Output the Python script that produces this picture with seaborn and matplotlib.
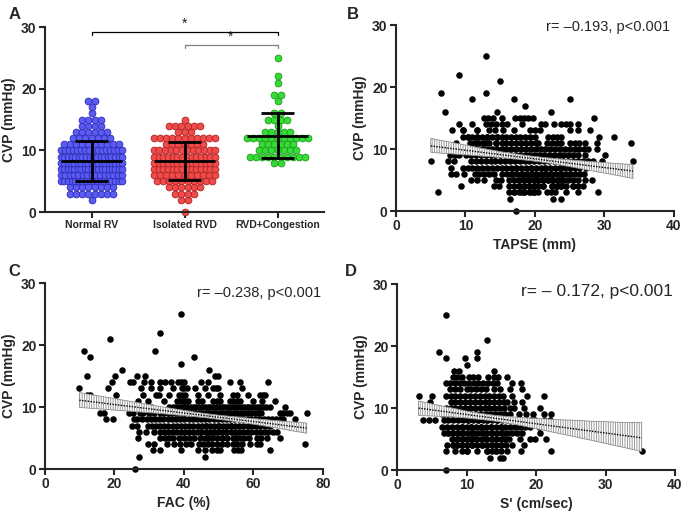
import numpy as np
import pandas as pd
import matplotlib
matplotlib.use("Agg")
import matplotlib.pyplot as plt
import seaborn as sns

sns.set_style("ticks")
plt.rcParams["font.family"] = ["Liberation Sans", "DejaVu Sans"]
plt.rcParams["hatch.linewidth"] = 0.6

# ---- Panel A : CVP par groupe (niveau -> nombre de patients) ----
GROUPS = ["Normal RV", "Isolated RVD", "RVD+Congestion"]
NORMAL_CVP = [2, 3, 4, 5, 6, 7, 8, 9, 10, 11, 12, 13, 14, 15, 16, 17, 18]
NORMAL_N = [1, 8, 8, 18, 15, 19, 19, 18, 16, 10, 7, 6, 4, 4, 1, 1, 2]
ISOLATED_CVP = [0, 2, 3, 4, 5, 6, 7, 8, 9, 10, 11, 12, 13, 14, 15]
ISOLATED_N = [1, 2, 4, 6, 10, 11, 14, 14, 14, 12, 7, 11, 3, 6, 1]
CONGEST_CVP = [8, 9, 10, 11, 12, 13, 14, 15, 16, 18, 19, 21, 22, 25]
CONGEST_N = [2, 10, 7, 6, 11, 5, 1, 4, 2, 1, 2, 1, 1, 1]
GROUP_FILL = ["#5B5BF2", "#F04B4B", "#35DC35"]
GROUP_EDGE = ["#2B2BB8", "#B02323", "#1E9A1E"]

# ---- Panel B : TAPSE (mm) par niveau de CVP ----
B_CVP = [25, 22, 21, 19, 18, 17, 16, 15, 14, 13, 12, 11, 10, 9, 8, 7, 6, 5, 4, 3, 2, 0]
B_TAPSE = [
    [13],
    [9],
    [15],
    [6.5, 13],
    [11, 17, 25],
    [18.5],
    [7, 14.5, 22.3],
    [12.7, 13.3, 14, 15.2, 17.1, 17.8, 18.4, 19, 19.7, 28.5],
    [9, 11, 13, 13.7, 14.4, 15.2, 16, 18.1, 20.8, 21.4, 22.7, 23.8, 24.5, 25, 26.2],
    [8, 9.7, 9.7, 11.7, 11.7, 13.4, 14.2, 15.4, 17, 19.3, 20, 20.7, 25, 26.2, 27.9],
    [9.6, 10.3, 10.3, 11, 11.7, 11.7, 12.4, 13.1, 13.1, 13.8, 14.5, 14.5, 15.2, 15.8,
     16.5, 17.2, 17.9, 18.6, 19.3, 20, 21.9, 22.6, 23.2, 23.8, 29.2, 31.3],
    [8.6, 10.6, 11.3, 11.3, 12, 12.7, 12.7, 13.4, 14.4, 14.4, 15.2, 15.9, 16.6, 17.3, 18,
     18.7, 19.4, 20.1, 20.5, 21.7, 22.4, 23.1, 23.8, 25, 25.7, 26.4, 27.2, 28.9, 33.8],
    [8.3, 9, 10.3, 11, 11.7, 12.4, 13.1, 13.8, 14.5, 15.2, 15.9, 16.6, 17.3, 18, 18.7,
     19.4, 20.1, 20.8, 21.5, 22.2, 22.9, 23.6, 24.3, 25, 25.7, 26.4, 27.1, 27.7, 28.9],
    [7.7, 8.5, 9.1, 10.1, 10.8, 11.5, 12.2, 12.9, 13.6, 14.3, 15, 15.7, 16.4, 17.1,
     17.8, 18.5, 19.2, 19.9, 20.6, 21.3, 22, 22.7, 23.4, 24.1, 24.8, 25.5, 26.2, 27.2, 30.1],
    [5, 7.5, 8.4, 10.8, 11.5, 12.2, 12.9, 13.6, 14.3, 15, 15.7, 16.4, 17.1, 17.8, 18.5,
     19.2, 19.9, 20.6, 21.3, 22, 22.7, 23.4, 24.1, 24.8, 25.5, 26.2, 26.9, 27.6, 28.4,
     29.6, 34.1],
    [7.9, 9.6, 10.3, 11, 11.7, 12.4, 13.1, 13.8, 14.5, 15.2, 15.9, 16.6, 17.3, 17.3, 18,
     18.7, 19.4, 19.4, 20.1, 20.8, 21.5, 21.5, 22.2, 22.9, 23.6, 23.6, 24.3, 25, 25.7,
     26.4, 27.4, 29.7],
    [7.9, 8.6, 9.8, 11.3, 12, 12.7, 13.4, 14.1, 15.3, 16, 16.7, 16.7, 17.4, 18.1, 18.1,
     18.8, 18.8, 19.5, 19.5, 20.2, 20.2, 20.9, 20.9, 21.6, 21.6, 22.3, 22.3, 23, 23.7,
     23.7, 24.4, 25.1, 25.1, 25.8, 26.5, 27],
    [10.8, 11.7, 12.7, 14.4, 15.1, 16.3, 17, 17.7, 17.7, 18.4, 18.4, 19.1, 19.1, 19.8,
     19.8, 20.5, 20.5, 21.2, 21.2, 21.9, 21.9, 22.6, 22.6, 23.3, 23.3, 24, 24, 24.7, 25.4,
     26.2, 27.2, 28.2],
    [9.3, 14.1, 14.8, 16.3, 17, 17.7, 17.7, 18.4, 18.4, 19.1, 19.1, 19.8, 19.8, 20.5,
     20.5, 21.2, 21.2, 22.4, 22.4, 23.1, 23.1, 23.8, 23.8, 24.5, 25.5, 25.5, 26.2, 26.9],
    [6.1, 16.3, 17, 17, 17.7, 18, 18.4, 18.4, 19.1, 19.4, 19.8, 19.8, 20.5, 21.7, 22.3,
     22.9, 24.5, 26.2, 29.1],
    [16.4, 22.6, 23.8],
    [17.2],
]

# ---- Panel C : FAC (%) par niveau de CVP ----
C_CVP = [25, 22, 21, 19, 18, 17, 16, 15, 14, 13, 12, 11, 10, 9, 8, 7, 6, 5, 4, 3, 2, 0]
C_FAC = [
    [39],
    [33],
    [18.7],
    [11.2, 31.8],
    [13, 43],
    [39],
    [22.3, 47.3],
    [12.2, 20.1, 26.4, 28.8, 48.9, 49.9],
    [19.2, 24.6, 25.3, 28.6, 30.5, 33.2, 34.5, 36.4, 38.4, 39.2, 40.1, 44.9, 47, 53.2,
     56.1, 64.3],
    [9.9, 18, 27.6, 30.5, 33.2, 36.7, 39.3, 40.1, 40.8, 43.2, 46, 48.4, 49.2, 49.9, 56.6],
    [12.2, 13, 20.4, 28.3, 32, 32.8, 35.7, 38.6, 39.4, 40.2, 44.1, 47, 50.4, 54.2, 55.2,
     58.5, 61.8, 62.6, 63.4],
    [26.7, 29.7, 34.2, 37.9, 38.8, 39.6, 40.4, 41.2, 44.1, 45.2, 48.4, 49.4, 50.5, 53.2,
     54.2, 55.2, 56.1, 60, 62.4, 66.2],
    [26, 28, 30.5, 35.8, 36.8, 37.8, 38.8, 39.6, 40.4, 41.2, 42, 42.8, 43.6, 44.4, 45.2,
     46, 46.8, 47.6, 48.4, 49.2, 50, 50.8, 51.6, 52.4, 53.2, 54, 54.8, 55.6, 56.4, 57.2,
     58, 58.8, 59.6, 60.4, 61.2, 62, 62.8, 63.6, 64.7, 69],
    [15.8, 17, 24.2, 25.3, 27.3, 28.3, 30, 31.5, 33, 34.2, 35.3, 36.3, 37.3, 38.3, 39.3,
     40.3, 41.3, 42.3, 43.3, 44.3, 45.3, 46.3, 47.3, 48.3, 49.3, 50.3, 51.3, 52.3, 53.3,
     54.3, 55.3, 56.3, 57.3, 58.3, 59.3, 60.3, 61.3, 62.3, 67.6, 68.6, 69.6, 70.5, 75.3],
    [17.5, 19.6, 25.5, 26.5, 28, 29.3, 30.5, 31.7, 32.9, 34.1, 35.3, 36.5, 37.7, 38.9,
     40.1, 41.3, 42.5, 43.7, 44.9, 46.1, 47.3, 48.5, 49.7, 50.9, 52.1, 53.3, 54.5, 55.7,
     56.9, 58.1, 59.3, 60.5, 61.7, 62.9, 64.1, 65.3, 66.5, 67.7, 68.6, 71.9],
    [25, 26.5, 29.5, 30.7, 31.9, 33.1, 34.3, 35.5, 36.7, 37.9, 39.1, 40.3, 41.5, 42.7,
     43.9, 45.1, 46.3, 46.3, 47.5, 48.7, 49.9, 50, 51.1, 52.3, 53.5, 53.5, 54.7, 55.9,
     57.1, 58.3, 59.5, 60.7, 62, 63.3, 64.7, 71.4],
    [27, 29, 31.5, 33, 34.2, 35.4, 36.6, 37.8, 39, 40.2, 41.4, 42.6, 43.8, 45, 45, 46.2,
     47.4, 48.6, 48.6, 49.8, 51, 52.2, 52.2, 53.4, 54.6, 55.8, 57, 58.2, 59.4, 60.6, 61.8,
     63, 64.3, 65.5, 66.7],
    [26.8, 33, 34.5, 35.7, 36.9, 38.5, 40, 41.5, 43, 44.5, 46, 47, 47, 48, 49.5, 51, 51,
     52.5, 54, 55, 55, 56.2, 57.4, 58.6, 60.9, 62.3, 63.8, 67.6],
    [29.5, 31.5, 35, 37, 38.9, 40.6, 42.1, 44.2, 45.5, 46.8, 48, 49.5, 51, 52.5, 54, 55.3,
     56.6, 59, 60.9, 62, 74.8],
    [31, 33, 39, 44, 46, 48, 49.5, 50.5, 54.5, 55.5, 56.5, 64.8],
    [27, 46],
    [26],
]

# ---- Panel D : S' (cm/sec) par niveau de CVP ----
D_CVP = [25, 21, 19, 18, 17, 16, 15, 14, 13, 12, 11, 10, 9, 8, 7, 6, 5, 4, 3, 2, 0]
D_SPRIME = [
    [7],
    [13],
    [6, 11.5],
    [7.1, 9.8, 11.5],
    [10.1],
    [8.2, 8.9, 14],
    [8, 8.7, 9.3, 10.4, 11, 11.6, 13.1, 13.9, 14.6, 15.8],
    [7, 7.6, 8.3, 9, 9.7, 10.4, 11.1, 11.7, 12.4, 13.1, 13.8, 14.4, 16.5, 17.9],
    [7.6, 8.3, 9, 10, 10.7, 11.4, 12.1, 12.8, 14, 14.8, 16.3, 18],
    [3.1, 5, 7, 7.7, 8.4, 9.1, 9.8, 10.5, 11.2, 11.9, 12.6, 13.3, 14, 14.7, 15.3, 16.5,
     18.7, 21.1],
    [4.8, 7.7, 8.4, 9.1, 9.8, 10.5, 11.2, 11.9, 12.6, 13.3, 14, 14.7, 15.4, 15.8, 16.8, 18],
    [6, 7, 7.7, 8.4, 9.1, 9.8, 10.5, 11.2, 11.9, 12.6, 13.3, 14, 14.7, 15.4, 16.3, 16.8,
     18.3, 20.6],
    [6.5, 7.2, 7.9, 8.6, 9.3, 10, 10.7, 11.4, 12.1, 12.8, 13.5, 14.2, 14.9, 15.6, 16.3,
     17.5, 18.5, 19.6, 21.1, 22.1],
    [3.8, 4.6, 5.5, 6.7, 7.4, 8.1, 8.8, 9.5, 10.2, 10.2, 10.9, 11.6, 11.6, 12.3, 13, 13,
     13.7, 14.4, 14.4, 15.1, 15.8, 16.5, 17.2, 17.9, 18.6, 19.3, 19.9, 21.1, 22],
    [6.5, 7.2, 7.9, 8.6, 9.3, 9.3, 10, 10.7, 10.7, 11.4, 12.1, 12.1, 12.8, 13.5, 13.5,
     14.2, 14.9, 14.9, 15.6, 16.3, 17, 17.7, 18.4, 19.2, 20.4],
    [6.7, 7.4, 7.4, 8.1, 8.1, 8.8, 8.8, 9.5, 9.5, 10.2, 10.9, 10.9, 11.6, 12.3, 12.3, 13,
     13.7, 13.7, 14.4, 15.1, 15.1, 15.8, 16.5, 17.3, 18, 20.6],
    [7.9, 8.6, 8.6, 9.3, 9.3, 10, 10, 10.7, 10.7, 11.4, 11.4, 12.1, 12.8, 12.8, 13.5,
     14.2, 14.2, 14.9, 15.6, 15.6, 16.1, 17.7, 19.2, 19.9, 21.5],
    [7.2, 8, 8, 8.7, 8.7, 9.4, 9.4, 10.1, 10.8, 10.8, 11.5, 12.2, 12.2, 12.9, 13.6, 13.6,
     14.3, 15, 15, 15.7, 16.5, 18.2],
    [7.1, 8.4, 9.3, 10, 10, 11.5, 12.9, 12.9, 13.6, 14.3, 14.3, 15, 15.8, 17.9, 22.1, 35.2],
    [13.4, 14.8, 15.3],
    [7.1],
]

FS_TICK = 10
FS_LABEL = 10


def style_axes(ax):
    sns.despine(ax=ax)
    for s in ("left", "bottom"):
        ax.spines[s].set_linewidth(1.5)
    ax.tick_params(width=1.5, length=4, labelsize=FS_TICK, pad=2)
    for lab in ax.get_xticklabels() + ax.get_yticklabels():
        lab.set_fontweight("bold")


def plot_groups(ax):
    rows = []
    for gi, (levels, counts) in enumerate([(NORMAL_CVP, NORMAL_N),
                                           (ISOLATED_CVP, ISOLATED_N),
                                           (CONGEST_CVP, CONGEST_N)]):
        for lv, n in zip(levels, counts):
            step = min(0.066, 0.66 / max(n - 1, 1))
            for k in range(n):
                rows.append((gi + (k - (n - 1) / 2) * step, lv, GROUPS[gi]))
    df = pd.DataFrame(rows, columns=["pos", "cvp", "group"])

    for gi, g in enumerate(GROUPS):
        sub = df[df["group"] == g]
        sns.scatterplot(data=sub, x="pos", y="cvp", ax=ax, s=24,
                        color=GROUP_FILL[gi], edgecolor=GROUP_EDGE[gi],
                        linewidth=0.6, legend=False, clip_on=False, zorder=2)
        m, sd = sub["cvp"].mean(), sub["cvp"].std()
        ax.hlines(m, gi - 0.33, gi + 0.33, color="black", lw=2, zorder=3)
        ax.hlines([m - sd, m + sd], gi - 0.18, gi + 0.18, color="black", lw=2, zorder=3)
        ax.vlines(gi, m - sd, m + sd, color="black", lw=2, zorder=3)

    # crochets de significativité
    ax.plot([0, 0, 2, 2], [28.7, 29.2, 29.2, 28.7], color="black", lw=0.9, clip_on=False)
    ax.text(1, 29.4, "*", ha="center", va="bottom", fontsize=10)
    ax.plot([1, 1, 2, 2], [26.6, 27.1, 27.1, 26.6], color="#808080", lw=0.9, clip_on=False)
    ax.text(1.5, 27.3, "*", ha="center", va="bottom", fontsize=10)

    ax.set_xlim(-0.5, 2.5)
    ax.set_ylim(0, 30)
    ax.set_yticks([0, 10, 20, 30])
    ax.set_xticks([0, 1, 2])
    ax.set_xticklabels(GROUPS)
    ax.set_xlabel("")
    ax.set_ylabel("CVP (mmHg)", fontsize=FS_LABEL, fontweight="bold", labelpad=4)
    style_axes(ax)
    for lab in ax.get_xticklabels():
        lab.set_fontsize(7.5)


def plot_corr(ax, cvp_rows, x_rows, xmax, xticks, xlabel, note, note_xy, note_fs):
    x = [v for row in x_rows for v in row]
    y = [c for c, row in zip(cvp_rows, x_rows) for _ in row]
    sns.regplot(x=x, y=y, ax=ax, ci=95, n_boot=1000, seed=3, color="black",
                scatter_kws=dict(s=22, linewidths=0, alpha=1, clip_on=False, zorder=2),
                line_kws=dict(color="black", lw=1.0, ls=(0, (1, 1)), zorder=4))
    band = ax.collections[-1]
    band.set_alpha(1)
    band.set_facecolor((1, 1, 1, 0))
    band.set_edgecolor("#8c8c8c")
    band.set_hatch("|" * 7)
    band.set_linewidth(0.6)
    band.set_zorder(3)

    ax.set_xlim(0, xmax)
    ax.set_ylim(0, 30)
    ax.set_xticks(xticks)
    ax.set_yticks([0, 10, 20, 30])
    ax.set_xlabel(xlabel, fontsize=FS_LABEL, fontweight="bold", labelpad=3)
    ax.set_ylabel("CVP (mmHg)", fontsize=FS_LABEL, fontweight="bold", labelpad=4)
    ax.text(note_xy[0], note_xy[1], note, transform=ax.transAxes, ha="right",
            va="center", fontsize=note_fs)
    style_axes(ax)


fig = plt.figure(figsize=(6.85, 5.16), dpi=100)
ax_a = fig.add_axes([0.0657, 0.589, 0.4073, 0.3585])
ax_b = fig.add_axes([0.5781, 0.591, 0.4058, 0.3605])
ax_c = fig.add_axes([0.0657, 0.091, 0.4058, 0.3605])
ax_d = fig.add_axes([0.5796, 0.089, 0.4058, 0.3605])

plot_groups(ax_a)
plot_corr(ax_b, B_CVP, B_TAPSE, 40, [0, 10, 20, 30, 40], "TAPSE (mm)",
          "r= \u20130.193, p<0.001", (0.985, 0.99), 10.5)
plot_corr(ax_c, C_CVP, C_FAC, 80, [0, 20, 40, 60, 80], "FAC (%)",
          "r= \u20130.238, p<0.001", (0.995, 0.945), 10.5)
plot_corr(ax_d, D_CVP, D_SPRIME, 40, [0, 10, 20, 30, 40], "S' (cm/sec)",
          "r= \u2013 0.172, p<0.001", (0.993, 0.96), 12.5)

for letter, (fx, fy) in zip("ABCD", [(0.012, 0.971), (0.507, 0.971),
                                     (0.012, 0.473), (0.504, 0.473)]):
    fig.text(fx, fy, letter, fontsize=12, fontweight="bold", ha="left", va="center")

fig.savefig("out.png", dpi=100)
